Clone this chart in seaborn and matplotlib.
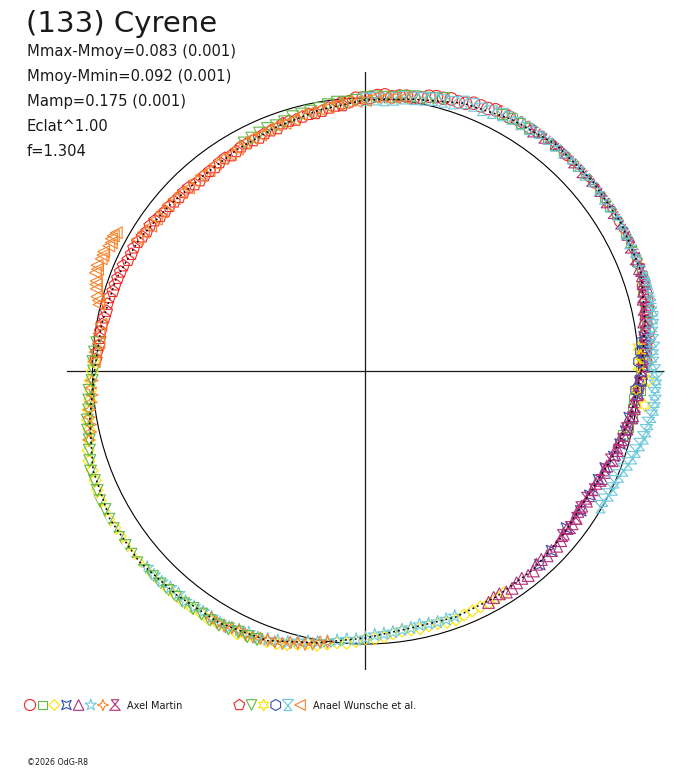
import numpy as np
import pandas as pd
import matplotlib
matplotlib.use("Agg")
import matplotlib.pyplot as plt
from matplotlib.path import Path
import seaborn as sns

# ---------------- text ----------------
title = "(133) Cyrene"
stats_lines = ["Mmax-Mmoy=0.083 (0.001)", "Mmoy-Mmin=0.092 (0.001)",
               "Mamp=0.175 (0.001)", "Eclat^1.00", "f=1.304"]
observers = ["Axel Martin", "Anael Wunsche et al."]
footer = "\u00a92026 OdG-R8"

# ---------------- model curve (phase angle in deg, radius = 1 + dmag) ----------------
model_phase = [0, 10, 20, 30, 40, 50, 60, 70, 80, 90, 100, 110, 120, 130, 140, 150, 160, 170,
               180, 190, 200, 210, 220, 230, 240, 250, 260, 270, 280, 290, 300, 310, 320, 330,
               340, 350, 360]
model_dmag = [0.011, 0.040, 0.073, 0.082, 0.084, 0.084, 0.066, 0.044, 0.011, -0.007,
              -0.029, -0.048, -0.062, -0.070, -0.059, -0.040, -0.026, -0.018, -0.007, 0.026,
              0.062, 0.082, 0.084, 0.073, 0.067, 0.051, 0.011, -0.022, -0.044, -0.040,
              -0.044, -0.048, -0.059, -0.066, -0.044, -0.015, 0.011]

# ---------------- Axel Martin sessions ----------------
am1_phase = [2, 5, 8, 11, 14, 17, 20, 23, 26, 29, 32, 35, 38, 41, 44, 47, 50, 53, 56, 59, 62, 65,
             68, 71, 74, 77, 80, 83, 86, 89, 92, 95,
             3.5, 6.5, 9.5, 12.5, 15.5, 18.5, 21.5, 24.5, 27.5, 30.5, 33.5, 36.5, 39.5, 42.5,
             45.5, 48.5, 51.5, 54.5, 57.5, 60.5, 63.5, 66.5, 69.5, 72.5, 75.5, 78.5, 81.5, 84.5,
             87.5, 90.5, 93.5]
am1_dmag = [0.027, 0.030, 0.046, 0.049, 0.062, 0.065, 0.084, 0.083, 0.091, 0.086, 0.091, 0.086,
            0.096, 0.090, 0.094, 0.085, 0.092, 0.090, 0.077, 0.077, 0.075, 0.061, 0.058, 0.043,
            0.039, 0.033, 0.016, 0.015, 0.014, 0.002, 0.000, -0.014,
            0.027, 0.042, 0.042, 0.058, 0.065, 0.081, 0.078, 0.086, 0.091, 0.084, 0.091, 0.095,
            0.089, 0.094, 0.087, 0.093, 0.094, 0.082, 0.081, 0.069, 0.069, 0.059, 0.047, 0.045,
            0.038, 0.021, 0.018, 0.009, 0.010, 0.000, -0.012]

am2_phase = [346, 350, 354, 358, 2, 6, 10, 14, 18, 22, 26, 30, 34, 38, 42, 46, 50, 54, 58, 62,
             348, 352, 356, 0, 4, 8, 12, 16, 20, 24, 28, 32, 36, 40, 44, 48, 52, 56, 60]
am2_dmag = [-0.030, -0.009, -0.010, 0.010, 0.025, 0.026, 0.045, 0.054, 0.073, 0.071, 0.081,
            0.091, 0.082, 0.089, 0.086, 0.092, 0.081, 0.083, 0.071, 0.066,
            -0.017, -0.012, 0.007, 0.008, 0.028, 0.035, 0.054, 0.058, 0.077, 0.085, 0.079,
            0.087, 0.085, 0.091, 0.081, 0.088, 0.086, 0.073, 0.071]

am3_phase = [178, 182, 186, 190, 194, 198, 202, 206, 210, 214, 218, 222, 226, 230, 234, 238, 242,
             246, 250, 254, 258, 262, 266, 270, 274, 278, 282, 286, 290, 294, 298, 302,
             180, 184, 188, 192, 196, 200, 204, 208, 212, 216, 220, 224, 228, 232, 236, 240,
             244, 248, 252, 256, 260, 264, 268, 272, 276, 280, 284, 288, 292, 296, 300]
am3_dmag = [-0.003, 0.009, 0.016, 0.034, 0.044, 0.065, 0.068, 0.081, 0.087, 0.084, 0.092, 0.086,
            0.086, 0.076, 0.077, 0.078, 0.066, 0.064, 0.055, 0.043, 0.020, 0.010, 0.000, -0.019,
            -0.024, -0.038, -0.035, -0.037, -0.030, -0.038, -0.036, -0.042,
            0.001, 0.009, 0.026, 0.035, 0.057, 0.066, 0.076, 0.088, 0.083, 0.090, 0.089, 0.089,
            0.078, 0.080, 0.073, 0.073, 0.071, 0.056, 0.050, 0.032, 0.020, 0.001, -0.009,
            -0.018, -0.033, -0.037, -0.038, -0.032, -0.036, -0.039, -0.038]

am4_phase = [312, 322, 331, 338, 344, 350, 355, 1, 4, 316, 327, 335, 341, 347, 358, 7]
am4_dmag = [-0.046, -0.066, -0.061, -0.053, -0.030, -0.019, 0.004, 0.017, 0.021,
            -0.053, -0.060, -0.058, -0.038, -0.022, 0.008, 0.028]

am5_phase = [298, 301, 304, 307, 310, 313, 316, 319, 322, 325, 328, 331, 334, 337, 340, 343, 346,
             349, 352, 355, 358, 1, 4, 7, 10, 13, 16, 19,
             299.5, 302.5, 305.5, 308.5, 311.5, 314.5, 317.5, 320.5, 323.5, 326.5, 329.5, 332.5,
             335.5, 338.5, 341.5, 344.5, 347.5, 350.5, 353.5, 356.5, 359.5, 2.5, 5.5, 8.5, 11.5,
             14.5, 17.5, 20.5]
am5_dmag = [-0.040, -0.048, -0.040, -0.049, -0.044, -0.056, -0.053, -0.053, -0.063, -0.059,
            -0.066, -0.058, -0.061, -0.049, -0.039, -0.038, -0.024, -0.023, -0.006, -0.001,
            0.002, 0.019, 0.021, 0.034, 0.035, 0.054, 0.060, 0.073,
            -0.047, -0.040, -0.047, -0.043, -0.055, -0.051, -0.050, -0.061, -0.059, -0.068,
            -0.061, -0.062, -0.050, -0.050, -0.038, -0.036, -0.019, -0.008, -0.008, -0.002,
            0.012, 0.015, 0.031, 0.035, 0.048, 0.051, 0.070, 0.072]

am6_phase = [222, 226, 230, 234, 238, 242, 246, 250, 254, 258, 262, 266, 270, 274, 278, 282, 286, 290,
             224, 228, 232, 236, 240, 244, 248, 252, 256, 260, 264, 268, 272, 276, 280, 284, 288]
am6_dmag = [0.076, 0.075, 0.065, 0.068, 0.063, 0.064, 0.050, 0.047, 0.034, 0.013, 0.001, -0.014,
            -0.021, -0.035, -0.042, -0.049, -0.043, -0.044,
            0.077, 0.068, 0.071, 0.064, 0.065, 0.055, 0.054, 0.039, 0.020, 0.009, -0.007,
            -0.016, -0.032, -0.038, -0.044, -0.046, -0.043]

am7_phase = [182, 185, 188, 191, 194, 238, 241, 244, 247, 250, 253, 256, 259, 262,
             183.5, 186.5, 189.5, 192.5, 239.5, 242.5, 245.5, 248.5, 251.5, 254.5, 257.5, 260.5]
am7_dmag = [0.003, 0.006, 0.021, 0.027, 0.044, 0.066, 0.068, 0.057, 0.057, 0.048, 0.043, 0.026,
            0.018, 0.002,
            0.008, 0.012, 0.026, 0.032, 0.070, 0.060, 0.061, 0.052, 0.047, 0.032, 0.025, 0.007]

am8_phase = [320, 325, 330, 335, 340, 345, 350, 355, 0, 5, 10, 15, 20, 25, 30, 35, 40, 45, 50, 55,
             322.5, 327.5, 332.5, 337.5, 342.5, 347.5, 352.5, 357.5, 2.5, 7.5, 12.5, 17.5, 22.5,
             27.5, 32.5, 37.5, 42.5, 47.5, 52.5]
am8_dmag = [-0.062, -0.059, -0.068, -0.052, -0.048, -0.028, -0.010, -0.005, 0.013, 0.025, 0.044,
            0.055, 0.076, 0.074, 0.083, 0.080, 0.086, 0.083, 0.087, 0.073,
            -0.058, -0.068, -0.058, -0.053, -0.032, -0.024, -0.006, 0.001, 0.020, 0.038, 0.045,
            0.066, 0.073, 0.084, 0.080, 0.086, 0.080, 0.087, 0.079]

# ---------------- Anael Wunsche et al. sessions ----------------
aw1_phase = [95, 98, 101, 104, 107, 110, 113, 116, 119, 122, 125, 128, 131, 134, 137, 140, 143,
             146, 149, 152, 155, 158, 161, 164, 167, 170, 173, 176,
             96.5, 99.5, 102.5, 105.5, 108.5, 111.5, 114.5, 117.5, 120.5, 123.5, 126.5, 129.5,
             132.5, 135.5, 138.5, 141.5, 144.5, 147.5, 150.5, 153.5, 156.5, 159.5, 162.5, 165.5,
             168.5, 171.5, 174.5, 177.5]
aw1_dmag = [-0.024, -0.027, -0.039, -0.041, -0.043, -0.055, -0.055, -0.061, -0.061, -0.070,
            -0.068, -0.072, -0.076, -0.067, -0.067, -0.062, -0.059, -0.048, -0.046, -0.039,
            -0.040, -0.032, -0.030, -0.024, -0.026, -0.020, -0.019, -0.014,
            -0.023, -0.035, -0.037, -0.046, -0.045, -0.054, -0.062, -0.061, -0.067, -0.066,
            -0.073, -0.073, -0.074, -0.066, -0.065, -0.062, -0.052, -0.050, -0.042, -0.042,
            -0.033, -0.031, -0.030, -0.023, -0.024, -0.019, -0.019, -0.012]

aw2_phase = [74, 78, 82, 86, 90, 94, 98, 102, 106, 110, 114, 118, 174, 178, 182, 186, 190, 194,
             198, 202, 206, 210, 214, 218, 222, 226, 230, 234, 238, 242, 246,
             76, 80, 84, 88, 92, 96, 100, 104, 108, 112, 116, 176, 180, 184, 188, 192, 196, 200,
             204, 208, 212, 216, 220, 224, 228, 232, 236, 240, 244, 248]
aw2_dmag = [0.038, 0.022, 0.016, 0.005, 0.001, -0.013, -0.015, -0.027, -0.031, -0.044, -0.046,
            -0.054, -0.010, -0.001, 0.002, 0.019, 0.035, 0.043, 0.062, 0.071, 0.084, 0.086,
            0.091, 0.090, 0.093, 0.084, 0.082, 0.075, 0.078, 0.070, 0.065,
            0.029, 0.020, 0.008, 0.005, -0.008, -0.010, -0.023, -0.030, -0.040, -0.042, -0.051,
            -0.005, -0.004, 0.015, 0.024, 0.041, 0.052, 0.072, 0.076, 0.081, 0.090, 0.088,
            0.093, 0.084, 0.082, 0.082, 0.074, 0.075, 0.064, 0.061]

aw3_phase = [353, 356, 358, 1, 3, 5]
aw3_dmag = [0.030, -0.006, 0.038, 0.000, 0.010, 0.004]

aw4_phase = [356, 358, 2, 4, 6]
aw4_dmag = [-0.006, 0.010, 0.003, 0.012, 0.019]

aw5_phase = [22, 26, 30, 34, 38, 42, 46, 50, 54, 58, 62, 66, 70, 74, 78, 82, 86, 90,
             330, 333, 336, 339, 342, 345, 348, 351, 354, 357, 0, 3, 6, 9, 12, 15, 18,
             24, 28, 32, 36, 40, 44, 48, 52, 56, 60, 64, 68, 72, 76, 80, 84, 88,
             331.5, 334.5, 337.5, 340.5, 343.5, 346.5, 349.5, 352.5, 355.5, 358.5, 1.5, 4.5,
             7.5, 10.5, 13.5, 16.5, 19.5]
aw5_dmag = [0.075, 0.074, 0.085, 0.081, 0.085, 0.079, 0.086, 0.081, 0.081, 0.069, 0.064, 0.049,
            0.047, 0.029, 0.019, 0.011, -0.003, -0.005,
            -0.006, 0.000, -0.002, 0.012, 0.028, 0.041, 0.052, 0.060, 0.066, 0.063, 0.058,
            0.052, 0.056, 0.064, 0.078, 0.085, 0.088,
            0.080, 0.078, 0.086, 0.079, 0.085, 0.087, 0.081, 0.082, 0.072, 0.070, 0.055, 0.051,
            0.033, 0.026, 0.014, 0.002, -0.002,
            -0.008, 0.004, 0.005, 0.020, 0.033, 0.049, 0.054, 0.066, 0.062, 0.067, 0.052,
            0.058, 0.057, 0.072, 0.079, 0.090, 0.084]

aw6_phase = [82, 86, 90, 94, 98, 102, 106, 110, 114, 118, 122, 126, 130, 134, 138, 142, 146, 150,
             170, 174, 178, 151, 152.5, 154, 155.5, 157, 158.5, 160, 161.5, 163, 164.5, 166,
             84, 88, 92, 96, 100, 104, 108, 112, 116, 120, 124, 128, 132, 136, 140, 144, 148,
             172, 176, 151.8, 153.2, 156.2, 159.2, 162.2, 165.2]
aw6_dmag = [0.012, 0.004, -0.009, -0.011, -0.024, -0.030, -0.043, -0.044, -0.054, -0.054, -0.066,
            -0.064, -0.064, -0.067, -0.057, -0.053, -0.051, -0.035, -0.016, -0.018, -0.006,
            0.044, 0.049, 0.046, 0.054, 0.052, 0.057, 0.053, 0.040, 0.031, 0.021, 0.006,
            0.007, 0.003, -0.012, -0.016, -0.027, -0.032, -0.046, -0.048, -0.050, -0.061,
            -0.061, -0.069, -0.063, -0.061, -0.055, -0.053, -0.041, -0.014, -0.007,
            0.048, 0.043, 0.051, 0.050, 0.037, 0.012]

# ---------------- marker shapes ----------------
M, L, C = Path.MOVETO, Path.LINETO, Path.CLOSEPOLY
concave_sq = Path([(1, 1), (0, 0.55), (-1, 1), (-0.55, 0), (-1, -1), (0, -0.55), (1, -1),
                   (0.55, 0), (1, 1)], [M, L, L, L, L, L, L, L, C])
star4 = Path([(0, 1), (0.28, 0.28), (1, 0), (0.28, -0.28), (0, -1), (-0.28, -0.28), (-1, 0),
              (-0.28, 0.28), (0, 1)], [M, L, L, L, L, L, L, L, C])
hat = Path([(-1, -1), (1, -1), (0, 0.1), (0.7, 1), (-0.7, 1), (0, 0.1), (-1, -1)],
           [M, L, L, L, L, L, C])
inv_hat = Path([(-1, 1), (1, 1), (0, -0.1), (0.7, -1), (-0.7, -1), (0, -0.1), (-1, 1)],
               [M, L, L, L, L, L, C])

RED, GREEN, YELLOW, BLUE = "#F02828", "#62B946", "#FFE400", "#3352A8"
MAGENTA, CYAN, ORANGE = "#B2307A", "#6CC8DC", "#F8822A"

axel_sessions = [
    (am1_phase, am1_dmag, "o", RED, 8.0),
    (am2_phase, am2_dmag, "s", GREEN, 6.3),
    (am3_phase, am3_dmag, "D", YELLOW, 5.4),
    (am4_phase, am4_dmag, concave_sq, BLUE, 6.8),
    (am5_phase, am5_dmag, "^", MAGENTA, 7.6),
    (am6_phase, am6_dmag, "*", CYAN, 8.6),
    (am7_phase, am7_dmag, star4, ORANGE, 8.0),
    (am8_phase, am8_dmag, hat, MAGENTA, 7.6),
]
anael_sessions = [
    (aw1_phase, aw1_dmag, "p", RED, 8.2),
    (aw2_phase, aw2_dmag, "v", GREEN, 7.6),
    (aw3_phase, aw3_dmag, (6, 1, 0), YELLOW, 8.2),
    (aw4_phase, aw4_dmag, "h", BLUE, 8.0),
    (aw5_phase, aw5_dmag, inv_hat, CYAN, 8.0),
    (aw6_phase, aw6_dmag, "<", ORANGE, 7.6),
]
DATA_SCALE = 1.12   # plotted markers slightly larger than legend keys

# ---------------- figure ----------------
W, H = 688, 768
fig = plt.figure(figsize=(W / 100, H / 100), dpi=100)
fig.patch.set_facecolor("white")

R_PX = 273.0
RMAX = 1.095
cx, cy = 365.5, 371.0
half = RMAX * R_PX
ax = fig.add_axes([(cx - half) / W, (H - cy - half) / H, 2 * half / W, 2 * half / H],
                  projection="polar")
ax.set_facecolor("none")

for phase, dmag, mk, col, ms in axel_sessions + anael_sessions:
    df = pd.DataFrame({"theta": np.deg2rad(phase), "r": 1 + np.asarray(dmag)})
    sns.scatterplot(data=df, x="theta", y="r", marker=mk, s=(ms * DATA_SCALE) ** 2, color=col,
                    facecolors="none", edgecolor=col, linewidth=0.8, ax=ax,
                    legend=False, zorder=3)

mdf = pd.DataFrame({"theta": np.deg2rad(model_phase), "r": 1 + np.asarray(model_dmag)})
sns.lineplot(data=mdf, x="theta", y="r", sort=False, estimator=None, color="black",
             linewidth=1.1, linestyle=(0, (1.2, 2.0)), ax=ax, zorder=6)

ax.set_ylim(0, RMAX)
ax.set_rticks([1.0])
ax.set_yticklabels([])
ax.set_thetagrids([0, 90, 180, 270], labels=["", "", "", ""])
ax.grid(True)
ax.xaxis.grid(True, color="#1a1a1a", linewidth=0.9)
ax.yaxis.grid(True, color="black", linewidth=0.8)
ax.tick_params(length=0)
ax.spines["polar"].set_visible(False)
ax.set_xlabel("")
ax.set_ylabel("")

# ---------------- texts ----------------
def px_text(x, y, s, size, **kw):
    fig.text(x / W, 1 - y / H, s, fontsize=size, va="baseline", ha="left",
             color="#1a1a1a", **kw)

px_text(26, 32, title, 21)
for i, line in enumerate(stats_lines):
    px_text(27, 56 + 25 * i, line, 10.6)
px_text(27, 765, footer, 5.7)

# ---------------- legend row ----------------
lax = fig.add_axes([0, 0, 1, 1])
lax.set_xlim(0, W)
lax.set_ylim(H, 0)
lax.axis("off")
for i, (_, _, mk, col, ms) in enumerate(axel_sessions):
    lax.scatter([30 + 12.15 * i], [705], marker=mk, s=ms ** 2, facecolors="none",
                edgecolors=col, linewidths=0.8)
for i, (_, _, mk, col, ms) in enumerate(anael_sessions):
    lax.scatter([239.3 + 12.15 * i], [705], marker=mk, s=ms ** 2, facecolors="none",
                edgecolors=col, linewidths=0.8)
px_text(127, 709, observers[0], 7.0)
px_text(313, 709, observers[1], 7.0)

fig.savefig("out.png", dpi=100, facecolor="white")
